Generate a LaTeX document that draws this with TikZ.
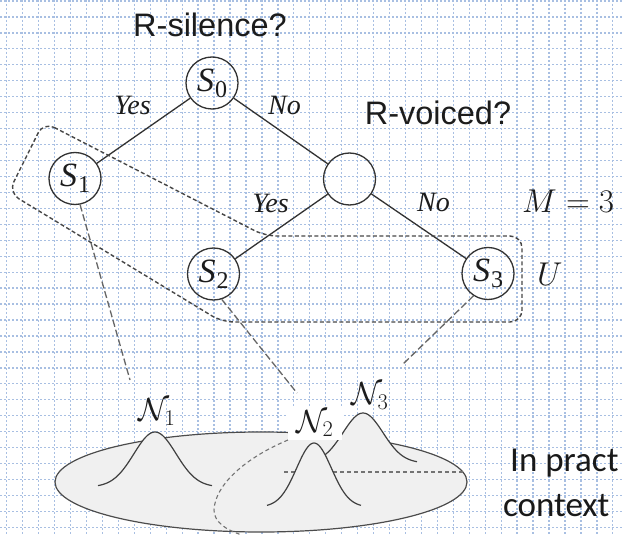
\RequirePackage{fix-cm}
\documentclass[tikz,border=0pt]{standalone}
\usepackage{fontspec}
\setmainfont{Liberation Serif}
\newfontfamily\helv{Liberation Sans}
\newfontfamily\calib{Carlito}

\definecolor{gridblue}{RGB}{168,191,226}
\definecolor{linegray}{RGB}{50,50,50}
\definecolor{inkblack}{RGB}{28,28,28}
\definecolor{bumpgray}{RGB}{240,240,240}

% state label S_i
\newcommand\sname[1]{{\fontsize{34bp}{34bp}\selectfont\itshape S}\kern1bp\raisebox{-6bp}{\fontsize{24bp}{24bp}\selectfont #1}}
% gaussian bump: centre x, foot y, half width, height, sigma
\newcommand\gbump[5]{%
  \fill[bumpgray] plot[domain=-#3:#3,samples=61] ({#1+(\x)},{#2-#4*exp(-0.5*((\x)/#5)^2)}) -- cycle;
  \draw[bumpline] plot[domain=-#3:#3,samples=61] ({#1+(\x)},{#2-#4*exp(-0.5*((\x)/#5)^2)});}

\tikzset{
  gridline/.style={draw=gridblue, line width=1.3bp, dash pattern=on 2bp off 2bp},
  state/.style={circle, draw=linegray, line width=1.3bp, minimum size=52bp, inner sep=0pt, text=inkblack},
  treeline/.style={draw=linegray, line width=1.3bp},
  question/.style={font=\helv\fontsize{32.5bp}{36bp}\selectfont, text=inkblack, inner sep=0pt, anchor=base},
  answer/.style={font=\rmfamily\itshape\fontsize{28bp}{30bp}\selectfont, text=inkblack, inner sep=0pt, anchor=base},
  mathlbl/.style={font=\fontsize{33bp}{36bp}\selectfont, text=inkblack, inner sep=0pt, anchor=base west},
  gausslbl/.style={font=\fontsize{32bp}{34bp}\selectfont, text=inkblack, inner sep=0pt},
  groupline/.style={draw=linegray!90, line width=1.4bp, dash pattern=on 4bp off 2.5bp, rounded corners=12bp},
  linkline/.style={draw=black!60, line width=1.3bp, dash pattern=on 7bp off 3bp},
  innerdash/.style={draw=black!55, line width=1.1bp, dash pattern=on 4bp off 3bp},
  bumpline/.style={draw=black!75, line width=1.2bp},
  note/.style={font=\calib\fontsize{35bp}{40bp}\selectfont, text=black!90, inner sep=0pt, anchor=base west}
}

\begin{document}
\begin{tikzpicture}[x=1bp, y=-1bp]
\useasboundingbox (0,0) rectangle (623,535);
\fill[white] (0,0) rectangle (623,535);

% dotted grid
\foreach \k in {0,...,38} \draw[gridline] ({6.7+15.95*\k},0) -- ({6.7+15.95*\k},535);
\foreach \k in {0,...,33} \draw[gridline] (0,{1+15.95*\k}) -- (623,{1+15.95*\k});

% feature space with the gaussians
\draw[fill=bumpgray, draw=black!70, line width=1.2bp] (261,482) ellipse [x radius=206bp, y radius=50bp];
\draw[innerdash] (288,440) .. controls (245,458) and (215,485) .. (214,510) .. controls (214,522) and (226,530) .. (242,535);
\draw[innerdash] (284,472) -- (463,472);
\gbump{363}{463}{54}{50}{20}
\gbump{314}{507}{47}{64}{17.4}
\gbump{155}{487}{57}{55}{21}

\node[gausslbl, fill=white, minimum width=54bp, minimum height=33bp] (n2) at (315,423.5) {$\mathcal{N}_2$};
\node[gausslbl] (n1) at (157,412) {$\mathcal{N}_1$};
\node[gausslbl] (n3) at (370,396) {$\mathcal{N}_3$};

% decision tree
\node[state] (s0) at (212,83) {\sname{0}};
\node[state] (s1) at (75,178.5) {\sname{1}};
\node[state] (v)  at (349.5,179) {};
\node[state] (s2) at (213.5,274) {\sname{2}};
\node[state] (s3) at (488,273.5) {\sname{3}};

\draw[treeline] (s0) -- (s1);
\draw[treeline] (s0) -- (v);
\draw[treeline] (v) -- (s2);
\draw[treeline] (v) -- (s3);

\node[question] (q1) at (210,37) {R-silence?};
\node[question] (q2) at (438,125) {R-voiced?};
\node[answer] (y1) at (132.5,115) {Yes};
\node[answer] (o1) at (284.5,115) {No};
\node[answer] (y2) at (270.5,213) {Yes};
\node[answer] (o2) at (433.5,212) {No};

\node[mathlbl] (m) at (522,213) {$M=3$};
\node[mathlbl] (u) at (537,285) {$U$};

% tied-state group
\draw[groupline] (43.6,122) -- (265,236) -- (522,236) -- (522,322) -- (222,322) -- (8.5,192.5) -- cycle;

% links from leaves to their gaussians
\coordinate (e1) at (130,380);
\coordinate (e2) at (297,393);
\coordinate (e3) at (402,365);
\draw[linkline] (s1.-79) -- (e1);
\draw[linkline] (s2.-72) -- (e2);
\draw[linkline] (s3.-123) -- (e3);

\node[note] (t1) at (510,471) {In pract};
\node[note] (t2) at (503,516) {context};
\end{tikzpicture}
\end{document}
